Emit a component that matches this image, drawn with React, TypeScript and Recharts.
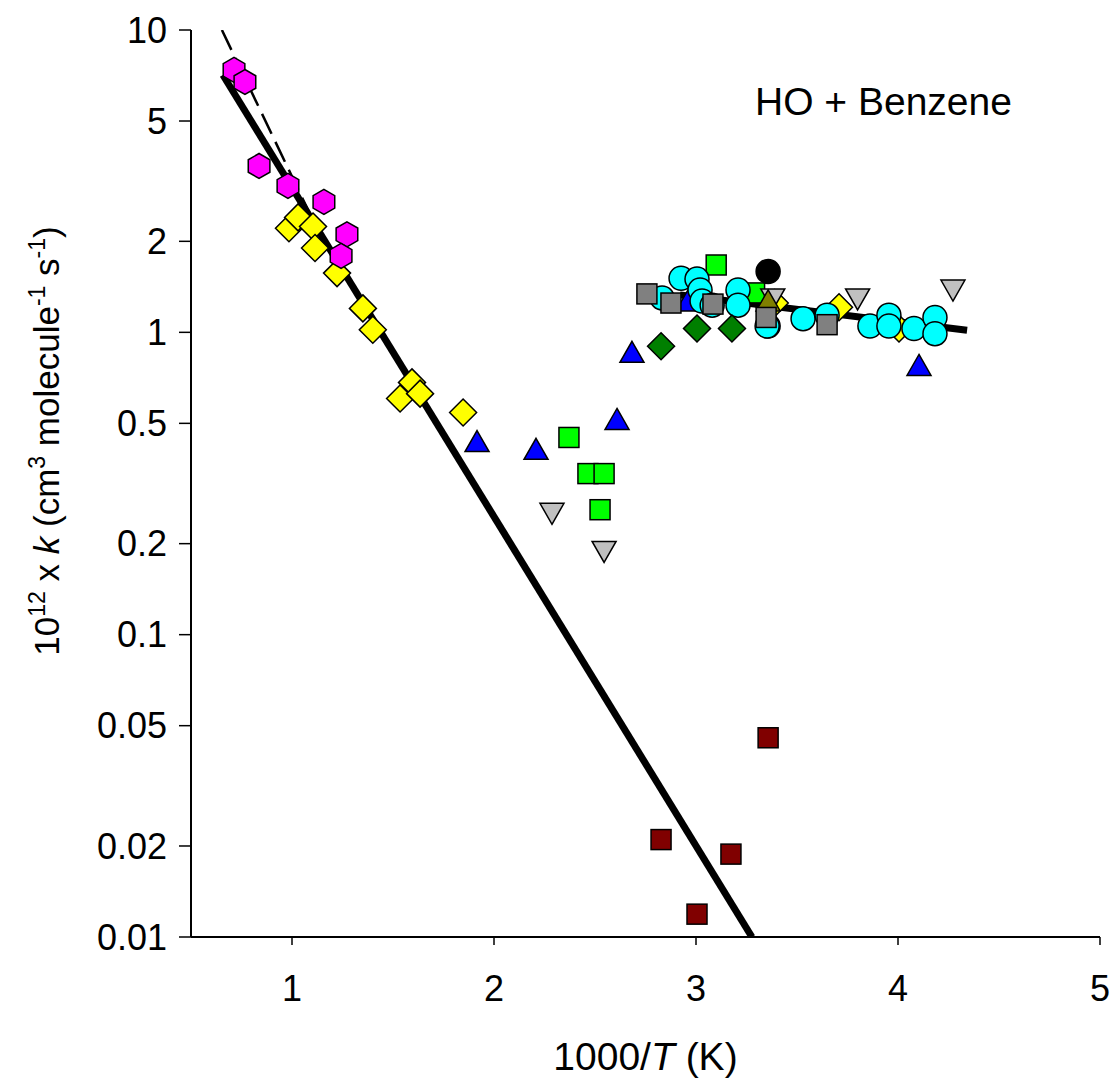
import React from "react";
import {
  ScatterChart,
  Scatter,
  XAxis,
  YAxis,
  Label,
} from "recharts";

// data points: [1000/T, 10^12 k]
const hexMagenta = [
  [0.713, 7.38], [0.767, 6.73], [0.837, 3.55], [0.98, 3.05],
  [1.158, 2.7], [1.272, 2.11], [1.243, 1.79],
];
const diamondYellow = [
  [0.985, 2.21], [1.03, 2.4], [1.104, 2.24], [1.114, 1.9], [1.223, 1.57],
  [1.351, 1.2], [1.4, 1.02], [1.535, 0.604], [1.594, 0.683], [1.634, 0.627],
  [1.847, 0.543], [3.39, 1.25], [3.708, 1.21], [4.005, 1.03],
];
const triBlue = [
  [1.916, 0.432], [2.208, 0.407], [2.609, 0.511], [2.683, 0.852],
  [2.96, 1.26], [4.104, 0.771],
];
const squareLime = [
  [2.371, 0.449], [2.465, 0.341], [2.545, 0.341], [2.525, 0.259],
  [3.1, 1.67], [3.29, 1.35],
];
const triDownGray = [
  [2.287, 0.254], [2.545, 0.19], [3.38, 1.3], [3.8, 1.3], [4.272, 1.39],
];
const diamondGreen = [[2.827, 0.899], [3.005, 1.03], [3.178, 1.03]];
const circleBlack = [[3.357, 1.59]];
const triOlive = [[3.357, 1.26]];
const circleNavy = [[3.357, 1.05]];
const squareGray = [
  [2.757, 1.34], [2.876, 1.25], [3.084, 1.24], [3.347, 1.12], [3.649, 1.06],
];
const circleCyan = [
  [2.832, 1.3], [2.926, 1.51], [3.005, 1.5], [3.02, 1.38], [3.03, 1.27],
  [3.08, 1.23], [3.208, 1.38], [3.208, 1.23], [3.352, 1.05], [3.53, 1.11],
  [3.649, 1.14], [3.861, 1.05], [3.955, 1.14], [3.955, 1.05], [4.079, 1.03],
  [4.183, 1.12], [4.183, 0.99],
];
const squareDarkRed = [[2.827, 0.021], [3.005, 0.0119], [3.173, 0.0188], [3.357, 0.0456]];

// fitted lines
const fitLow = [[0.658, 7.1], [3.277, 0.01]];
const fitHigh = [[2.921, 1.33], [4.342, 1.016]];
const fitDashed = [[0.653, 10], [1.11, 2.3]];

const xTicks = [1, 2, 3, 4, 5];
const yTicks = [0.01, 0.02, 0.05, 0.1, 0.2, 0.5, 1, 2, 5, 10];

const FONT = "'Liberation Sans', Arial, sans-serif";

const pts = (arr: number[][]) => arr.map(([x, y]) => ({ x, y }));

function Marker(props: any) {
  const { cx, cy, kind, fill } = props;
  if (cx == null || cy == null) return <g />;
  const s = { fill, stroke: "#000", strokeWidth: 1.5 };
  if (kind === "circle") return <circle cx={cx} cy={cy} r={12} {...s} />;
  if (kind === "square")
    return <rect x={cx - 10} y={cy - 10} width={20} height={20} {...s} />;
  if (kind === "diamond") {
    const r = 13.5;
    return <polygon points={`${cx},${cy - r} ${cx + r},${cy} ${cx},${cy + r} ${cx - r},${cy}`} {...s} />;
  }
  if (kind === "up")
    return <polygon points={`${cx},${cy - 12} ${cx + 12},${cy + 9} ${cx - 12},${cy + 9}`} {...s} />;
  if (kind === "down")
    return <polygon points={`${cx},${cy + 12} ${cx + 12},${cy - 9} ${cx - 12},${cy - 9}`} {...s} />;
  if (kind === "hex") {
    const r = 12.5;
    const p = [90, 30, -30, -90, -150, 150]
      .map((a) => `${cx + r * Math.cos((a * Math.PI) / 180)},${cy - r * Math.sin((a * Math.PI) / 180)}`)
      .join(" ");
    return <polygon points={p} {...s} />;
  }
  return <g />;
}

const YLabel = () => (
  <text
    transform="translate(59, 441) rotate(-90)"
    textAnchor="middle"
    fontFamily={FONT}
    fontSize={35}
    fill="#000"
  >
    10
    <tspan fontSize={23} dy={-14}>12</tspan>
    <tspan dy={14}> x </tspan>
    <tspan fontStyle="italic">k</tspan>
    <tspan> (cm</tspan>
    <tspan fontSize={23} dy={-14}>3</tspan>
    <tspan dy={14}> molecule</tspan>
    <tspan fontSize={23} dy={-14}>-1</tspan>
    <tspan dy={14}> s</tspan>
    <tspan fontSize={23} dy={-14}>-1</tspan>
    <tspan dy={14}>)</tspan>
  </text>
);

const XLabel = (props: any) => {
  const { viewBox } = props;
  const cx = viewBox.x + viewBox.width / 2;
  return (
    <text x={cx} y={1070} textAnchor="middle" fontFamily={FONT} fontSize={39} fill="#000">
      1000/<tspan fontStyle="italic">T</tspan> (K)
    </text>
  );
};

const series: [number[][], string, string][] = [
  [squareLime, "square", "#00ff00"],
  [circleNavy, "circle", "#000080"],
  [triBlue, "up", "#0000ff"],
  [diamondYellow, "diamond", "#ffff00"],
  [circleCyan, "circle", "#00ffff"],
  [triDownGray, "down", "#c0c0c0"],
  [triOlive, "up", "#808000"],
  [squareGray, "square", "#808080"],
  [diamondGreen, "diamond", "#007f00"],
  [circleBlack, "circle", "#000000"],
  [hexMagenta, "hex", "#ff00ff"],
  [squareDarkRed, "square", "#800000"],
];

export default function App() {
  return (
    <div style={{ position: "absolute", left: 0, top: 0, background: "#fff" }}>
      <ScatterChart
        width={1114}
        height={1079}
        margin={{ top: 30, right: 14, bottom: 0, left: 0 }}
      >
        <XAxis
          type="number"
          dataKey="x"
          domain={[0.5, 5]}
          ticks={xTicks}
          allowDataOverflow
          height={142}
          tickSize={8}
          tickMargin={30}
          stroke="#000"
          axisLine={{ stroke: "#000", strokeWidth: 2 }}
          tickLine={{ stroke: "#000", strokeWidth: 1.5 }}
          tick={{ fill: "#000", fontSize: 36, fontFamily: FONT }}
        >
          <Label content={<XLabel />} />
        </XAxis>
        <XAxis
          xAxisId="top"
          orientation="top"
          type="number"
          domain={[0.5, 5]}
          height={0}
          tick={false}
          tickLine={false}
          axisLine={{ stroke: "#000", strokeWidth: 2 }}
        />
        <YAxis
          type="number"
          dataKey="y"
          scale="log"
          domain={[0.01, 10]}
          ticks={yTicks}
          allowDataOverflow
          width={191}
          tickSize={12}
          tickMargin={12}
          interval={0}
          axisLine={{ stroke: "#000", strokeWidth: 2 }}
          tickLine={{ stroke: "#000", strokeWidth: 1.5 }}
          tick={{ fill: "#000", fontSize: 36, fontFamily: FONT }}
          tickFormatter={(v: number) => String(v)}
        >
          <Label content={<YLabel />} />
        </YAxis>
        <YAxis
          yAxisId="right"
          orientation="right"
          type="number"
          scale="log"
          domain={[0.01, 10]}
          width={0}
          tick={false}
          tickLine={false}
          axisLine={{ stroke: "#000", strokeWidth: 2 }}
        />

        <Scatter
          data={pts(fitLow)}
          line={{ stroke: "#000", strokeWidth: 7 }}
          shape={() => <g />}
          isAnimationActive={false}
        />
        <Scatter
          data={pts(fitHigh)}
          line={{ stroke: "#000", strokeWidth: 7 }}
          shape={() => <g />}
          isAnimationActive={false}
        />
        <Scatter
          data={pts(fitDashed)}
          line={{ stroke: "#000", strokeWidth: 2.5, strokeDasharray: "22 9" }}
          shape={() => <g />}
          isAnimationActive={false}
        />

        {series.map(([arr, kind, fill], i) => (
          <Scatter
            key={i}
            data={pts(arr)}
            shape={(p: any) => <Marker {...p} kind={kind} fill={fill} />}
            isAnimationActive={false}
          />
        ))}

        <text x={755} y={115} fontFamily={FONT} fontSize={39} fill="#000">
          HO + Benzene
        </text>
      </ScatterChart>
    </div>
  );
}
